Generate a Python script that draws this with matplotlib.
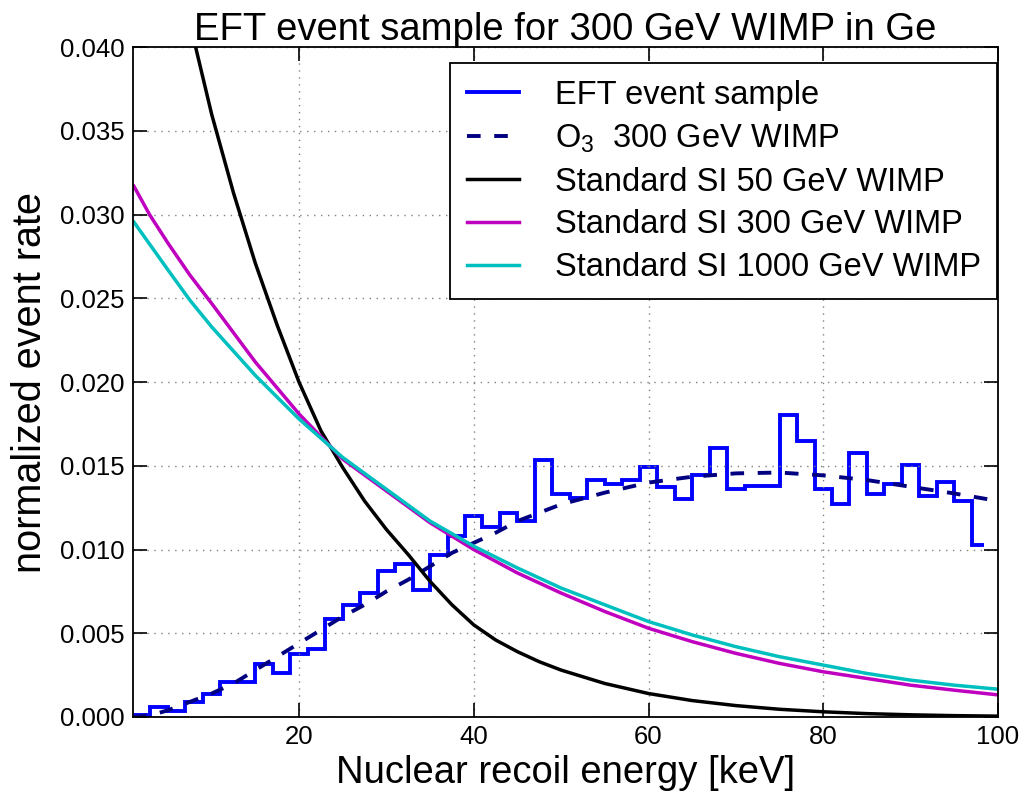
import numpy as np
import matplotlib
matplotlib.use("Agg")
import matplotlib.pyplot as plt

plt.rcParams['font.family'] = ['Liberation Sans', 'DejaVu Sans']
plt.rcParams['mathtext.fontset'] = 'custom'
plt.rcParams['mathtext.rm'] = 'Liberation Sans'
plt.rcParams['mathtext.it'] = 'Liberation Sans:italic'

# histogram of the EFT event sample (2 keV bins, last one cut at ~98.4)
bin_edges = np.append(np.arange(1, 98, 2), 98.4)
hist_vals = [0.0001, 0.00058, 0.00038, 0.0009, 0.00138, 0.00208, 0.00208, 0.00316,
             0.0026, 0.00377, 0.00405, 0.00587, 0.00667, 0.0074, 0.0087,
             0.00914, 0.0076, 0.0097, 0.0108, 0.0120, 0.01136, 0.01216, 0.0117,
             0.01533, 0.0133, 0.0131, 0.01413, 0.0139, 0.01413, 0.01493, 0.01373,
             0.0130, 0.01443, 0.01605, 0.01363, 0.01379, 0.01379, 0.01802, 0.01648,
             0.01363, 0.01275, 0.01579, 0.0133, 0.01393, 0.01505, 0.0132, 0.01403,
             0.01289, 0.01026]

# O3 300 GeV WIMP (dashed)
o3_x = [1, 3, 5, 7.5, 10, 12.5, 15, 17.5, 20, 22.5, 25, 27.5, 30, 32.5, 35, 37.5,
        40, 42.5, 45, 50, 55, 60, 65, 70, 75, 80, 85, 90, 95, 100]
o3_y = [0.0, 0.0001, 0.0004, 0.0009, 0.0014, 0.0020, 0.0028, 0.0036, 0.0044, 0.0052,
        0.0060, 0.0067, 0.0075, 0.0082, 0.0090, 0.0098, 0.0104, 0.0110, 0.0117, 0.0127,
        0.0134, 0.0140, 0.01435, 0.01455, 0.0146, 0.01443, 0.01415, 0.01375, 0.01335, 0.0129]

# standard SI curves
si50_x = [7, 8.17, 10, 12.5, 15, 17.5, 20, 22.5, 25, 27.5, 30, 32.5, 35, 37.5, 40,
          42.5, 45, 47.5, 50, 55, 60, 65, 70, 75, 80, 85, 90, 95, 100]
si50_y = [0.0426, 0.040, 0.0360, 0.0313, 0.0271, 0.0234, 0.0200, 0.0171, 0.0149, 0.0129,
          0.0112, 0.0097, 0.0081, 0.0067, 0.0055, 0.0046, 0.0039, 0.0033, 0.0028,
          0.0020, 0.0014, 0.00098, 0.00068, 0.00046, 0.00031, 0.0002, 0.00013,
          0.00008, 0.00005]

si300_x = [1.1, 2.9, 5, 7.5, 10, 15, 20, 25, 30, 35, 40, 45, 50, 55, 60, 65, 70, 75,
           80, 85, 90, 95, 100]
si300_y = [0.0317, 0.0300, 0.0283, 0.0264, 0.0247, 0.0212, 0.0181, 0.0154, 0.0135,
           0.0116, 0.0100, 0.0086, 0.0074, 0.0063, 0.0053, 0.0045, 0.0038, 0.0032,
           0.0027, 0.0023, 0.0019, 0.0016, 0.00132]

si1000_x = [1.1, 5, 7.5, 10, 15, 20, 25, 30, 35, 40, 45, 50, 55, 60, 65, 70, 75, 80,
            85, 90, 95, 100]
si1000_y = [0.02956, 0.0267, 0.0249, 0.0233, 0.0204, 0.0178, 0.0155, 0.0136, 0.0117,
            0.0102, 0.0089, 0.0077, 0.0067, 0.0057, 0.0049, 0.0042, 0.0036, 0.0031,
            0.0026, 0.0022, 0.0019, 0.00166]

fig = plt.figure(figsize=(10.36, 7.97), dpi=100)
ax = fig.add_axes([0.1284, 0.1004, 0.8349, 0.8403])

ax.stairs(hist_vals, bin_edges, baseline=None, color='blue', lw=2.8,
          label='EFT event sample')
ax.plot(o3_x, o3_y, color='navy', lw=2.8, linestyle=(0, (3.5, 3.5)),
        label=r'$\mathrm{O_3}$  300 GeV WIMP')
ax.plot(si50_x, si50_y, color='black', lw=2.5, label='Standard SI 50 GeV WIMP')
ax.plot(si300_x, si300_y, color='m', lw=2.5, label='Standard SI 300 GeV WIMP')
ax.plot(si1000_x, si1000_y, color='c', lw=2.5, label='Standard SI 1000 GeV WIMP')

ax.set_xlim(1, 100)
ax.set_ylim(0, 0.04)
ax.set_xticks([20, 40, 60, 80, 100])
ax.set_yticks(np.arange(0, 0.0401, 0.005))
ax.yaxis.set_major_formatter(matplotlib.ticker.FormatStrFormatter('%.3f'))
ax.tick_params(direction='in', top=True, right=True, length=10, width=1.2,
               labelsize=18.5, pad=6)
ax.grid(True, linestyle=(0, (1, 4)), color='gray', lw=1)
for s in ax.spines.values():
    s.set_linewidth(1.3)

ax.set_title('EFT event sample for 300 GeV WIMP in Ge', fontsize=27.5, pad=5)
ax.set_xlabel('Nuclear recoil energy [keV]', fontsize=27.5, labelpad=4)
ax.set_ylabel('normalized event rate', fontsize=28.5, labelpad=8)

leg = ax.legend(loc='upper right', bbox_to_anchor=(0.999, 0.976), borderaxespad=0,
                fontsize=23.5, fancybox=False, edgecolor='black', framealpha=1,
                handlelength=1.6, handletextpad=1.1, labelspacing=0.36, borderpad=0.5)
leg.get_frame().set_linewidth(1.3)

fig.savefig('out.png', dpi=100)
